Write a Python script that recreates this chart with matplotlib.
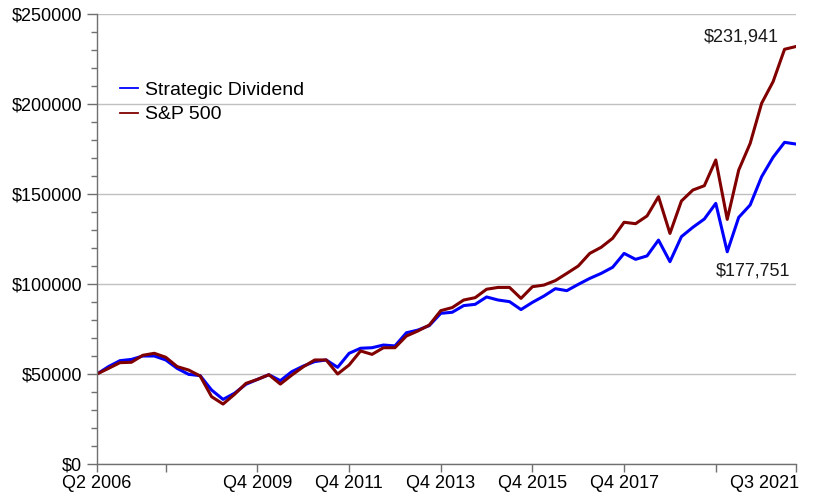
import numpy as np
import matplotlib.pyplot as plt
from matplotlib.ticker import MultipleLocator, FuncFormatter
import matplotlib.transforms as mtransforms

plt.rcParams['font.family'] = ['Liberation Sans', 'DejaVu Sans']

# quarterly growth of a $50,000 investment, Q2 2006 .. Q3 2021 (values in $1000)
strategic = [50.0, 54.1, 57.4, 58.1, 60.0, 60.0, 57.8, 53.1, 49.8, 49.1,
             41.1, 35.9, 39.3, 44.3, 47.0, 49.6, 46.3, 51.3, 54.4, 56.9,
             57.8, 53.7, 61.5, 64.3, 64.6, 66.1, 65.6, 72.9, 74.4, 76.9,
             83.7, 84.3, 88.0, 88.7, 92.8, 91.1, 90.2, 85.8, 89.8, 93.3,
             97.4, 96.3, 99.8, 103.1, 105.9, 109.3, 117.0, 113.7, 115.6, 124.4,
             112.4, 126.3, 131.5, 136.1, 144.8, 117.9, 137.0, 143.9, 159.6, 170.4,
             178.7, 177.751]
sp500 = [50.0, 53.1, 56.3, 56.5, 60.4, 61.5, 59.3, 54.1, 52.2, 48.9,
         37.4, 33.3, 38.7, 44.8, 47.0, 49.6, 44.4, 49.4, 54.0, 57.8,
         57.8, 50.0, 55.0, 62.8, 60.9, 64.6, 64.6, 71.1, 73.9, 77.2,
         85.2, 86.9, 91.1, 92.4, 97.1, 98.1, 98.1, 92.0, 98.5, 99.4,
         101.9, 105.9, 110.0, 117.0, 120.4, 125.4, 134.3, 133.5, 137.8, 148.5,
         128.1, 146.1, 152.2, 154.6, 168.9, 135.9, 163.3, 178.1, 200.4, 212.4,
         230.4, 231.941]

tick_idx = [0, 6, 14, 22, 30, 38, 46, 54, 61]
tick_labels = ['Q2 2006', '', 'Q4 2009', 'Q4 2011', 'Q4 2013',
               'Q4 2015', 'Q4 2017', '', 'Q3 2021']

strategic = np.array(strategic) * 1000
sp500 = np.array(sp500) * 1000
x = np.arange(len(strategic))

fig = plt.figure(figsize=(8.14, 4.98), dpi=100)
ax = fig.add_axes([97/814, 1 - 464/498, 699/814, 450/498])

ax.plot(x, strategic, color='#0000ff', lw=2.2, label='Strategic Dividend')
ax.plot(x, sp500, color='#800000', lw=2.2, label='S&P 500')

ax.set_xlim(0, len(x) - 1)
ax.set_ylim(0, 250000)

ax.yaxis.set_major_locator(MultipleLocator(50000))
ax.yaxis.set_minor_locator(MultipleLocator(10000))
ax.yaxis.set_major_formatter(FuncFormatter(lambda v, p: '$%d' % v))
ax.set_xticks(tick_idx)
ax.set_xticklabels(tick_labels)

ax.grid(axis='y', which='major', color='#c0c0c0', lw=1)
ax.set_axisbelow(True)
for s in ['top', 'right']:
    ax.spines[s].set_visible(False)
for s in ['left', 'bottom']:
    ax.spines[s].set_color('#707070')
    ax.spines[s].set_linewidth(1)

ax.tick_params(axis='y', which='major', length=7.2, width=1, color='#707070',
               labelsize=13, pad=3.6)
ax.tick_params(axis='y', which='minor', length=4.3, width=1, color='#707070')
ax.tick_params(axis='x', which='major', length=5.8, width=1, color='#707070',
               labelsize=13, pad=2)

# last label pushed left to stay inside the figure
last = ax.get_xticklabels()[-1]
last.set_horizontalalignment('right')
last.set_transform(last.get_transform() + mtransforms.ScaledTranslation(3/100, 0, fig.dpi_scale_trans))

leg = ax.legend(loc='upper left', bbox_to_anchor=(120/814, 1 - 81/498),
                bbox_transform=fig.transFigure, frameon=False, fontsize=14,
                handlelength=0.95, handletextpad=0.35, labelspacing=0.37,
                borderpad=0, borderaxespad=0)
for h in leg.get_lines():
    h.set_linewidth(1.3)

ax.annotate('$231,941', xy=(779, 1 - 37/498), xycoords=('figure pixels', 'figure fraction'),
            ha='right', va='center', fontsize=13, color='#1a1a1a')
ax.text(790/814, 1 - 271/498, '$177,751', transform=fig.transFigure,
        ha='right', va='center', fontsize=13, color='#1a1a1a')

fig.savefig('out.png', dpi=100)
